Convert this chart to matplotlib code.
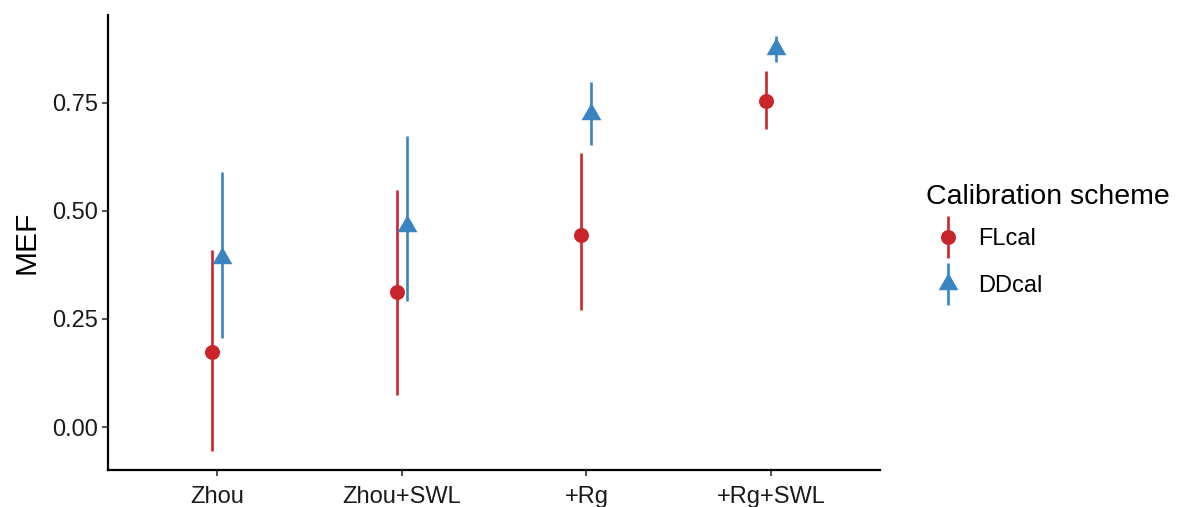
import numpy as np
import matplotlib.pyplot as plt
from matplotlib.lines import Line2D

plt.rcParams['font.family'] = ['Liberation Sans', 'DejaVu Sans']

models = ['Zhou', 'Zhou+SWL', '+Rg', '+Rg+SWL']
schemes = ['FLcal', 'DDcal']

fl_mef = [0.173, 0.312, 0.443, 0.753]
fl_lo = [-0.055, 0.074, 0.270, 0.690]
fl_hi = [0.409, 0.547, 0.633, 0.824]

dd_mef = [0.390, 0.464, 0.723, 0.875]
dd_lo = [0.206, 0.291, 0.651, 0.843]
dd_hi = [0.589, 0.672, 0.797, 0.905]

red = '#C9252B'
blue = '#3A84C2'

# equilateral triangle, centred on its centroid
tri = [(-1, -0.577), (1, -0.577), (0, 1.155), (-1, -0.577)]

fig = plt.figure(figsize=(11.77, 5.07), dpi=100)
ax = fig.add_axes([0.0918, 0.073, 0.656, 0.897])

x = np.arange(1, len(models) + 1)
dodge = 0.027

series = [
    (fl_mef, fl_lo, fl_hi, red, 'o', 10.8, -dodge),
    (dd_mef, dd_lo, dd_hi, blue, tri, 16.5, dodge),
]
for mef, lo, hi, col, mk, ms, off in series:
    xs = x + off
    ax.vlines(xs, lo, hi, color=col, lw=1.9, zorder=2)
    ax.plot(xs, mef, ls='none', marker=mk, ms=ms, color=col, mec=col, mew=0, zorder=3)

ax.set_xlim(0.41, 4.59)
ax.set_ylim(-0.099, 0.952)
ax.set_xticks(x)
ax.set_xticklabels(models)
ax.set_yticks([0, 0.25, 0.5, 0.75])
ax.set_yticklabels(['0.00', '0.25', '0.50', '0.75'])
ax.tick_params(axis='both', labelsize=17, colors='#333333', length=4.5, width=1.2,
               labelcolor='#1a1a1a', pad=3)
ax.tick_params(axis='x', pad=7)
for s in ['top', 'right']:
    ax.spines[s].set_visible(False)
for s in ['left', 'bottom']:
    ax.spines[s].set_linewidth(1.6)
    ax.spines[s].set_color('black')
ax.set_ylabel('MEF', fontsize=21.5, labelpad=8)

# legend: title as plain text, keys are a point with a vertical range line
fig.text(0.7867, 0.611, 'Calibration scheme', fontsize=20.5, ha='left', va='center')
handles = []
for col, mk, ms in [(red, 'o', 10.8), (blue, tri, 16.5)]:
    handles.append((Line2D([0], [0], color=col, lw=1.9, marker='|', ms=30, mew=1.9, ls='none'),
                    Line2D([0], [0], color=col, marker=mk, ms=ms, mew=0, ls='none')))
fig.legend(handles, schemes, loc='center left', bbox_to_anchor=(0.7867, 0.482),
           frameon=False, fontsize=17, handlelength=1.85, handletextpad=0.35,
           labelspacing=1.08, borderpad=0, borderaxespad=0)

fig.savefig('out.png', dpi=100)
